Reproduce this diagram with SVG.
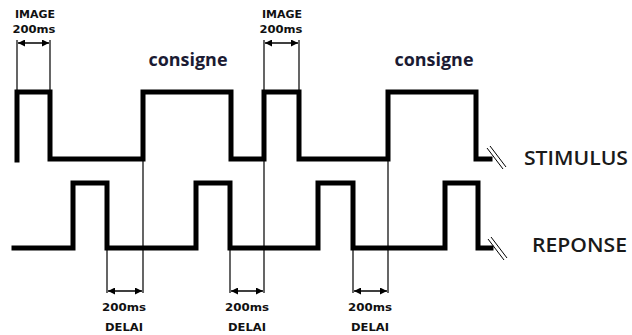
<svg xmlns="http://www.w3.org/2000/svg" width="632" height="335" viewBox="0 0 632 335">
<defs>
<marker id="ah" viewBox="0 0 8 8" refX="8" refY="4" markerWidth="7" markerHeight="7" orient="auto-start-reverse" markerUnits="userSpaceOnUse">
<path d="M0,0 L8,4 L0,8 Z" fill="#000"/>
</marker>
</defs>
<style>
.wave{fill:none;stroke:#000;stroke-width:5;stroke-linejoin:miter;stroke-linecap:square}
.thin{fill:none;stroke:#000;stroke-width:1.2}
.dim{fill:none;stroke:#000;stroke-width:1.5;marker-start:url(#ah);marker-end:url(#ah)}
.brk{fill:none;stroke:#000;stroke-width:1}
.small{font-family:"DejaVu Sans",sans-serif;font-size:10px;font-weight:bold;fill:#111;text-anchor:middle}
.cons{font-family:"Open Sans","Liberation Sans",sans-serif;font-size:17px;font-weight:bold;fill:#1b1b33;text-anchor:middle}
.lbl{font-family:"Open Sans","Liberation Sans",sans-serif;font-size:19px;font-weight:600;fill:#1a1a1a}
</style>
<rect width="632" height="335" fill="#fff"/>
<g id="connectors">
<path class="thin" d="M17,40 V92 M50,40 V92 M264,40 V92 M299,40 V92"/>
<path class="thin" d="M143,160 V293 M264,160 V293 M388,160 V293 M107,248 V293 M230,248 V293 M353,248 V293"/>
<line class="dim" x1="18" y1="43" x2="49" y2="43"/>
<line class="dim" x1="265" y1="43" x2="298" y2="43"/>
<line class="dim" x1="108" y1="291" x2="142" y2="291"/>
<line class="dim" x1="231" y1="291" x2="263" y2="291"/>
<line class="dim" x1="354" y1="291" x2="387" y2="291"/>
</g>
<g id="stimulus">
<path class="wave" d="M17,160 V92 H50 V159 H143 V92 H231 V159 H264 V92 H299 V159 H388 V92 H476 V159 H490"/>
<path class="brk" d="M487,148 L503,169 M490,146 L506,167"/>
<text class="lbl" x="524" y="165" textLength="104" lengthAdjust="spacingAndGlyphs">STIMULUS</text>
</g>
<g id="reponse">
<path class="wave" d="M14,248 V248 H73 V183 H107 V248 H196 V183 H230 V248 H318 V183 H353 V248 H445 V183 H478 V248 H491"/>
<path class="brk" d="M488,239 L504,260 M491,237 L507,258"/>
<text class="lbl" x="532" y="252" textLength="95" lengthAdjust="spacingAndGlyphs">REPONSE</text>
</g>
<g id="labels">
<text class="small" x="35" y="18" textLength="40" lengthAdjust="spacingAndGlyphs">IMAGE</text>
<text class="small" x="34" y="33" textLength="43" lengthAdjust="spacingAndGlyphs">200ms</text>
<text class="small" x="282" y="18" textLength="40" lengthAdjust="spacingAndGlyphs">IMAGE</text>
<text class="small" x="281" y="33" textLength="43" lengthAdjust="spacingAndGlyphs">200ms</text>
<text class="cons" x="188" y="66" textLength="79" lengthAdjust="spacingAndGlyphs">consigne</text>
<text class="cons" x="434" y="66" textLength="79" lengthAdjust="spacingAndGlyphs">consigne</text>
<text class="small" x="124" y="311" textLength="44" lengthAdjust="spacingAndGlyphs">200ms</text>
<text class="small" x="124" y="331" textLength="38" lengthAdjust="spacingAndGlyphs">DELAI</text>
<text class="small" x="247" y="311" textLength="44" lengthAdjust="spacingAndGlyphs">200ms</text>
<text class="small" x="247" y="331" textLength="38" lengthAdjust="spacingAndGlyphs">DELAI</text>
<text class="small" x="370" y="311" textLength="44" lengthAdjust="spacingAndGlyphs">200ms</text>
<text class="small" x="370" y="331" textLength="38" lengthAdjust="spacingAndGlyphs">DELAI</text>
</g>
</svg>
